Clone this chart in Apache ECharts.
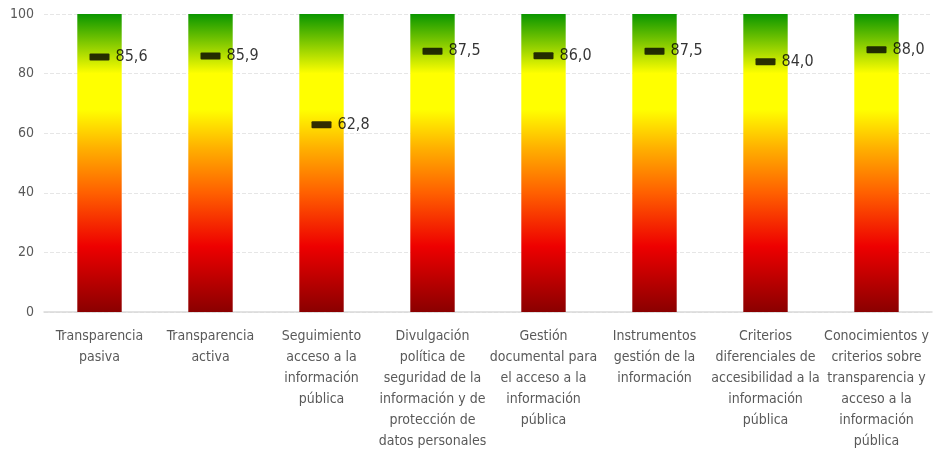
<!DOCTYPE html>
<html>
<head>
<meta charset="utf-8">
<script src="https://cdn.jsdelivr.net/npm/echarts@6/dist/echarts.min.js"></script>
<style>
  html, body { margin: 0; padding: 0; background: #fff; }
  #main { width: 935px; height: 452px; }
</style>
</head>
<body>
<div id="main"></div>
<script>
const categories = [
  'Transparencia\npasiva',
  'Transparencia\nactiva',
  'Seguimiento\nacceso a la\ninformación\npública',
  'Divulgación\npolítica de\nseguridad de la\ninformación y de\nprotección de\ndatos personales',
  'Gestión\ndocumental para\nel acceso a la\ninformación\npública',
  'Instrumentos\ngestión de la\ninformación',
  'Criterios\ndiferenciales de\naccesibilidad a la\ninformación\npública',
  'Conocimientos y\ncriterios sobre\ntransparencia y\nacceso a la\ninformación\npública'
]
const scores = [85.6, 85.9, 62.8, 87.5, 86.0, 87.5, 84.0, 88.0]
const scaleMax = [100, 100, 100, 100, 100, 100, 100, 100]

const font = '"DejaVu Sans Condensed", "Liberation Sans Narrow", sans-serif'

const myChart = echarts.init(document.getElementById('main'))

const option = {
  animation: false,
  grid: { left: 44, right: 3, top: 14, bottom: 140 },
  xAxis: {
    type: 'category',
    data: categories,
    axisLine: { lineStyle: { color: '#d9d9d9', width: 1.5 } },
    axisTick: { show: false },
    axisLabel: {
      interval: 0,
      color: '#595959',
      fontFamily: font,
      fontSize: 14,
      lineHeight: 21,
      margin: 14
    }
  },
  yAxis: {
    type: 'value',
    min: 0,
    max: 100,
    interval: 20,
    axisLine: { show: false },
    axisTick: { show: false },
    splitLine: { lineStyle: { color: '#e6e6e6', type: 'dashed' } },
    axisLabel: { color: '#595959', fontFamily: font, fontSize: 14, margin: 10 }
  },
  series: [
    {
      type: 'bar',
      data: scaleMax,
      barWidth: '40%',
      silent: true,
      itemStyle: {
        color: new echarts.graphic.LinearGradient(0, 0, 0, 1, [
          { offset: 0, color: '#0a9600' },
          { offset: 0.2, color: '#ffff00' },
          { offset: 0.32, color: '#ffff00' },
          { offset: 0.45, color: '#ffb000' },
          { offset: 0.6, color: '#ff6000' },
          { offset: 0.78, color: '#ee0000' },
          { offset: 1, color: '#8a0000' }
        ])
      }
    },
    {
      type: 'scatter',
      data: scores,
      symbol: 'path://M1,0 H19 A1,1 0 0 1 20,1 V6 A1,1 0 0 1 19,7 H1 A1,1 0 0 1 0,6 V1 A1,1 0 0 1 1,0 Z',
      symbolSize: [20, 7],
      itemStyle: { color: '#000' },
      z: 5,
      label: {
        show: true,
        position: 'right',
        distance: 6,
        color: '#000',
        fontFamily: font,
        fontSize: 16,
        formatter: p => p.value.toFixed(1).replace('.', ',')
      }
    }
  ]
}

myChart.setOption(option)
</script>
</body>
</html>
